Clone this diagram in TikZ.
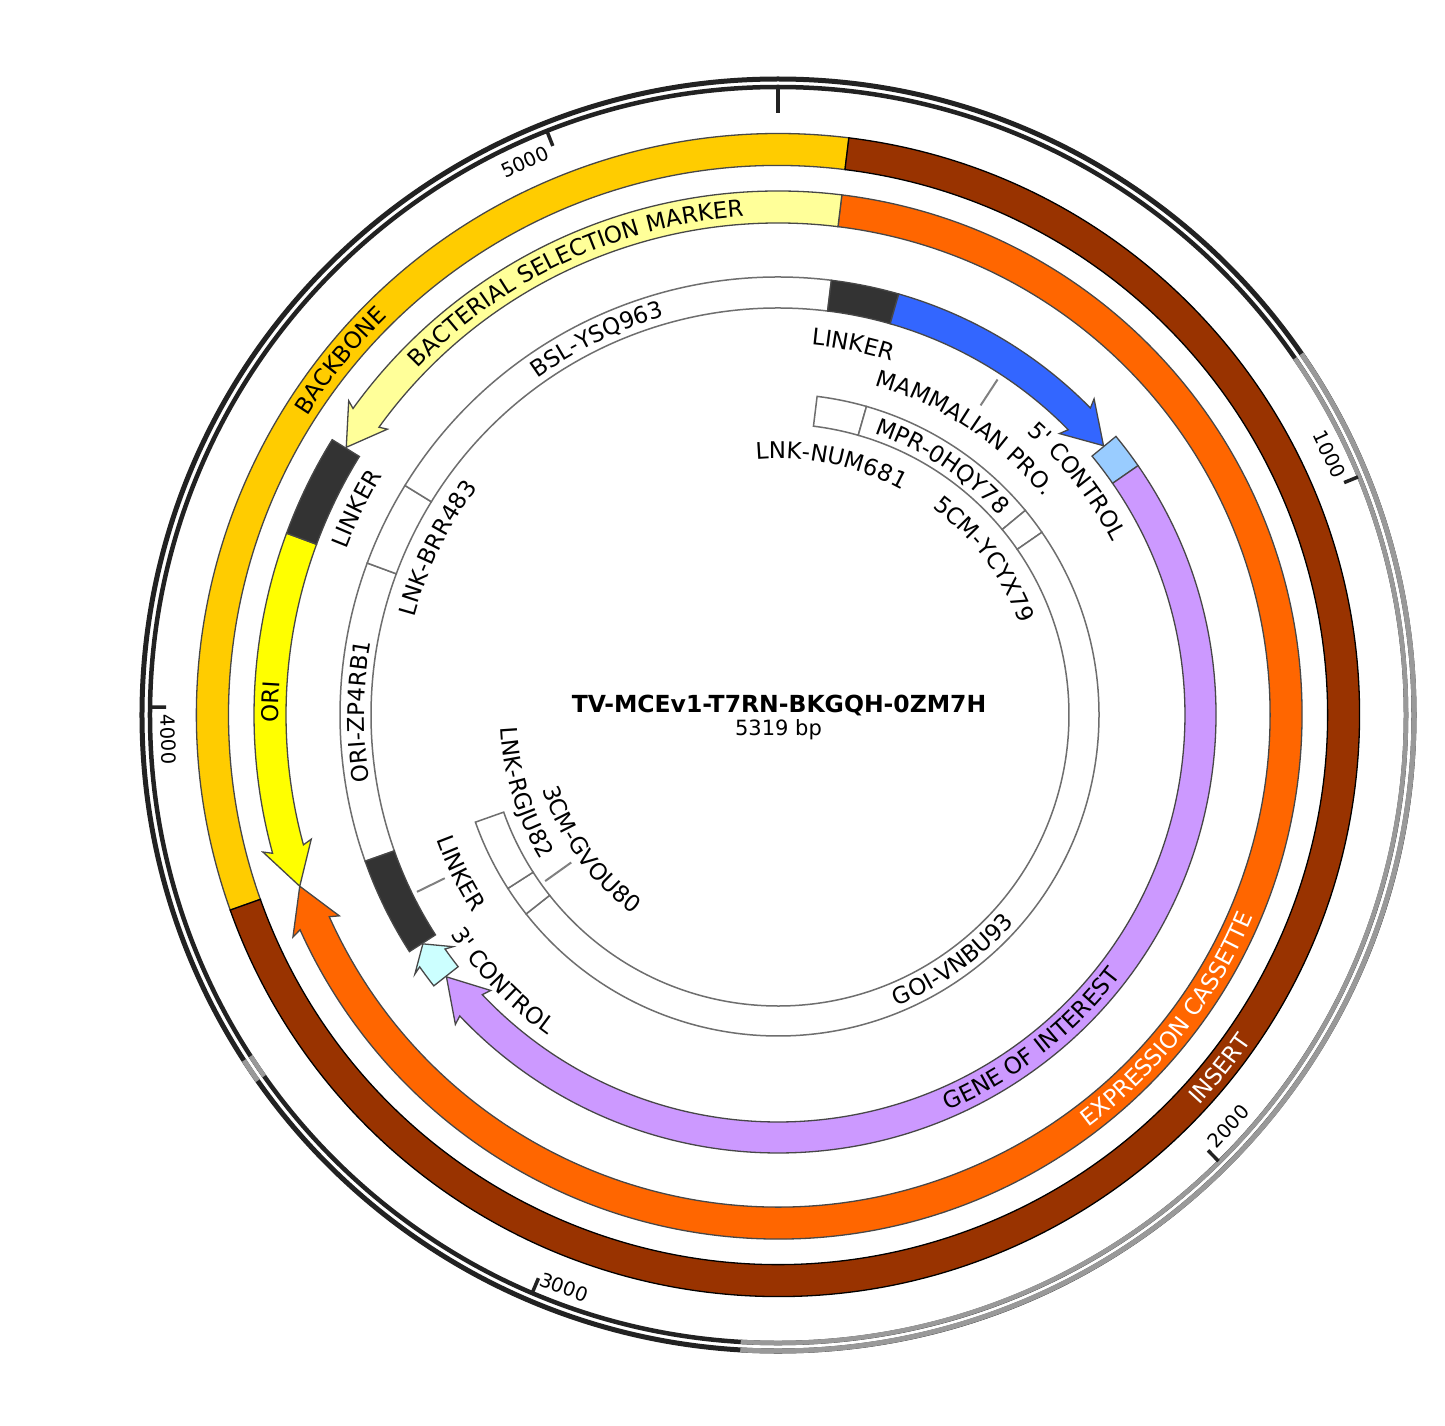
\documentclass[tikz,border=0pt]{standalone}
\usepackage{fontspec}
\newfontfamily\dvsans{DejaVu Sans}
\usetikzlibrary{decorations.text}
\definecolor{cbackbone}{HTML}{FFCC00}
\definecolor{cinsert}{HTML}{993300}
\definecolor{cbsm}{HTML}{FFFF99}
\definecolor{cexpr}{HTML}{FF6600}
\definecolor{cori}{HTML}{FFFF00}
\definecolor{clinker}{HTML}{333333}
\definecolor{cmpr}{HTML}{3366FF}
\definecolor{cfive}{HTML}{99CCFF}
\definecolor{cgoi}{HTML}{CC99FF}
\definecolor{cthree}{HTML}{CCFFFF}
\definecolor{cedge}{HTML}{474747}
\definecolor{cband}{HTML}{6E6E6E}
\definecolor{cring}{HTML}{222222}
\definecolor{cringgray}{HTML}{999999}
\definecolor{cleader}{HTML}{808080}

\newcommand\lblfont{\dvsans\fontsize{23}{27}\selectfont}
\newcommand\tickfont{\dvsans\fontsize{19.5}{23}\selectfont}

% band segment: style, a1, a2, r1, r2  (angles clockwise from top)
\newcommand\bandseg[5]{%
  \draw[#1] ({90-(#2)}:#5pt) arc[start angle={90-(#2)}, end angle={90-(#3)}, radius=#5pt]
    -- ({90-(#3)}:#4pt) arc[start angle={90-(#3)}, end angle={90-(#2)}, radius=#4pt] -- cycle;}

% arrow: style, start, head join, tip, r1, r2, barb ext, barb angle
\newcommand\featarrow[8]{%
  \pgfmathsetmacro\fArMid{(#5+#6)/2}%
  \pgfmathsetmacro\fArOut{#6+#7}%
  \pgfmathsetmacro\fArIn{#5-#7}%
  \draw[#1] ({90-(#2)}:#6pt) arc[start angle={90-(#2)}, end angle={90-(#3)}, radius=#6pt]
    -- ({90-(#8)}:\fArOut pt) -- ({90-(#4)}:\fArMid pt) -- ({90-(#8)}:\fArIn pt)
    -- ({90-(#3)}:#5pt) arc[start angle={90-(#3)}, end angle={90-(#2)}, radius=#5pt] -- cycle;}

% curved text, reading clockwise: extra opts, text, centre angle, baseline radius, half span
\newcommand\arctext[5]{%
  \path[decorate, decoration={text along path, text align=center, text={|\lblfont|#2}, #1}]
    ({90-(#3)+(#5)}:#4pt) arc[start angle={90-(#3)+(#5)}, end angle={90-(#3)-(#5)}, radius=#4pt];}
% curved text, reading counter-clockwise (lower half)
\newcommand\arctextflip[5]{%
  \path[decorate, decoration={text along path, text align=center, text={|\lblfont|#2}, #1}]
    ({90-(#3)-(#5)}:#4pt) arc[start angle={90-(#3)-(#5)}, end angle={90-(#3)+(#5)}, radius=#4pt];}

\tikzset{
  feat/.style={draw=cedge, line width=1.3pt, line join=miter},
  subband/.style={draw=cband, fill=white, line width=1.5pt},
  leader/.style={draw=cleader, line width=2pt},
  ticklbl/.style={font=\tickfont, inner sep=0pt},
}

\begin{document}
\begin{tikzpicture}
\fill[white] (-778pt,-710pt) rectangle (667pt,715pt);
\useasboundingbox (-778pt,-710pt) rectangle (667pt,715pt);

% outer double ring
\draw[cring, line width=5pt] (0,0) circle[radius=636pt];
\draw[cring, line width=4.5pt] (0,0) circle[radius=628pt];
\draw[cringgray, line width=5pt] ({90-55.4}:636pt) arc[start angle={90-55.4}, end angle={90-183.4}, radius=636pt];
\draw[cringgray, line width=4.5pt] ({90-55.4}:628pt) arc[start angle={90-55.4}, end angle={90-183.4}, radius=628pt];
\draw[cringgray, line width=5pt] ({90-234.9}:636pt) arc[start angle={90-234.9}, end angle={90-237.1}, radius=636pt];
\draw[cringgray, line width=4.5pt] ({90-234.9}:628pt) arc[start angle={90-234.9}, end angle={90-237.1}, radius=628pt];

% ticks
\draw[cring, line width=4pt] (90:602pt) -- (90:627pt);
\foreach \a in {67.68,135.36,203.04,270.73,338.41}
  \draw[cring, line width=3.5pt] ({90-\a}:612pt) -- ({90-\a}:627pt);
\node[ticklbl, rotate=-64.7] (t1000) at ({90-64.7}:610pt) {1000};
\node[ticklbl, rotate=47.6] (t2000) at ({90-132.4}:610pt) {2000};
\node[ticklbl, rotate=-20.5] (t3000) at ({90-200.5}:611pt) {3000};
\node[ticklbl, rotate=-87.7] (t4000) at ({90-267.7}:610pt) {4000};
\node[ticklbl, rotate=24.6] (t5000) at ({90-335.4}:608pt) {5000};

% ring A
\bandseg{feat, fill=cbackbone}{250.4}{367}{549.5}{581.5}
\bandseg{feat, draw=black, fill=cinsert}{7}{250.4}{549.5}{581.5}

% ring B
\featarrow{feat, fill=cexpr}{7}{245.8}{250.3}{492}{524}{9.5}{245.4}
\featarrow{feat, fill=cbsm}{367}{305.8}{301.8}{492}{524}{8}{306.2}
\featarrow{feat, fill=cori}{290.3}{254.7}{250.3}{492}{524}{9}{255.1}
\bandseg{feat, fill=clinker}{290.3}{301.7}{492}{524}

% ring C
\bandseg{subband}{250.5}{290.3}{407}{438}
\bandseg{subband}{290.3}{301.6}{407}{438}
\bandseg{subband}{301.6}{367}{407}{438}
\bandseg{feat, fill=clinker}{7}{16}{407}{438}
\featarrow{feat, fill=cmpr}{16}{45.5}{50.4}{407}{438}{9}{45.0}
\bandseg{feat, fill=cfive}{50.5}{55.3}{407}{438}
\featarrow{feat, fill=cgoi}{55.3}{226.6}{231.7}{407}{438}{9}{226.2}
\featarrow{feat, fill=cthree}{231.8}{234.9}{237.2}{407}{438}{8}{234.5}
\bandseg{feat, fill=clinker}{237.3}{250.5}{407}{438}

% ring D
\bandseg{subband}{7}{16}{291}{321}
\bandseg{subband}{16}{50.4}{291}{321}
\bandseg{subband}{50.4}{55.3}{291}{321}
\bandseg{subband}{55.3}{231.7}{291}{321}
\bandseg{subband}{231.7}{237.3}{291}{321}
\bandseg{subband}{237.3}{250.5}{291}{321}

% leaders
\draw[leader] ({90-33.2}:370pt) -- ({90-33.2}:401pt);
\draw[leader] ({90-234.5}:254pt) -- ({90-234.5}:286pt);
\draw[leader] ({90-243.9}:371pt) -- ({90-243.9}:402pt);

% labels
\arctext{}{BACKBONE}{309}{557.6}{70}
\arctextflip{text color=white}{INSERT}{128.7}{574.4}{70}
\arctext{}{BACTERIAL SELECTION MARKER}{335}{499.6}{70}
\arctextflip{text color=white}{EXPRESSION CASSETTE}{128}{516.4}{70}
\arctext{}{ORI}{271.5}{499.6}{40}
\arctext{}{LINKER}{296.1}{462.6}{40}
\arctext{}{LINKER}{11.5}{371.6}{40}
\arctext{}{MAMMALIAN PRO.}{33.5}{343.6}{60}
\arctext{}{5' CONTROL}{52}{376.6}{60}
\arctextflip{}{GENE OF INTEREST}{142}{430.4}{70}
\arctextflip{}{3' CONTROL}{226}{394.4}{60}
\arctextflip{}{LINKER}{243.5}{363.4}{40}
\arctext{}{BSL-YSQ963}{334.3}{414}{60}
\arctext{}{LNK-BRR483}{296.1}{376.6}{60}
\arctext{}{ORI-ZP4RB1}{270.5}{413.6}{60}
\arctext{}{LNK-NUM681}{12}{256.6}{60}
\arctext{}{MPR-0HQY78}{33.4}{297.6}{60}
\arctext{}{5CM-YCYX79}{53}{258.6}{60}
\arctextflip{}{GOI-VNBU93}{144.5}{314.4}{60}
\arctextflip{}{3CM-GVOU80}{234.3}{246.4}{60}
\arctextflip{}{LNK-RGJU82}{253}{277.4}{60}

% centre
\node[font=\dvsans\bfseries\fontsize{23.5}{28}\selectfont, anchor=base, inner sep=0pt] (title) at (1pt,3pt) {TV-MCEv1-T7RN-BKGQH-0ZM7H};
\node[font=\dvsans\fontsize{21}{25}\selectfont, anchor=base, inner sep=0pt] (bp) at (0.5pt,-20pt) {5319 bp};
\end{tikzpicture}
\end{document}
